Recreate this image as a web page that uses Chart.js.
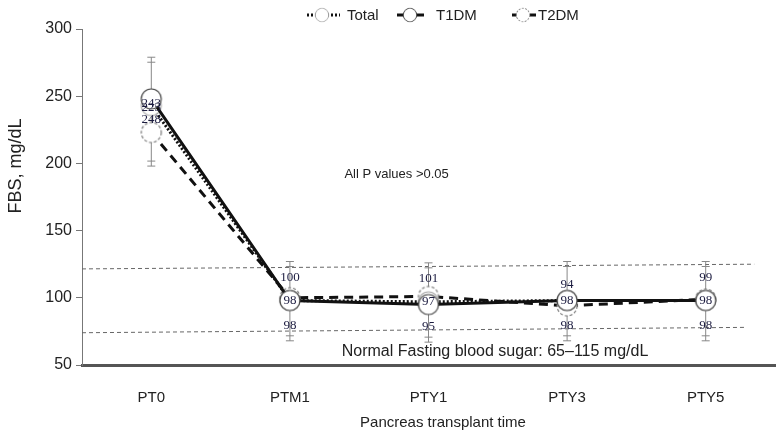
<!DOCTYPE html>
<html>
<head>
<meta charset="utf-8">
<script src="https://cdn.jsdelivr.net/npm/chart.js@4.4.1/dist/chart.umd.min.js"></script>
<style>
  html, body { margin: 0; padding: 0; background: #fff; }
  #wrap { width: 778px; height: 436px; }
</style>
</head>
<body>
<div id="wrap"><canvas id="fbsChart" width="778" height="436"></canvas></div>
<script>
// FBS over time after pancreas transplant
const timeLabels = ["PT0", "PTM1", "PTY1", "PTY3", "PTY5"];
const totalFbs = [243, 98, 97, 98, 98];
const t1dmFbs = [248, 98, 95, 98, 98];
const t2dmFbs = [223, 100, 101, 94, 99];
const errHigh = [279, 127, 126, 127, 127];
const errLow = [198, 68, 67, 68, 68];
const normalUpper = [121.5, 125];
const normalLower = [74, 78];
const yTicks = [50, 100, 150, 200, 250, 300];

const SANS = "'Liberation Sans', Arial, sans-serif";
const SERIF = "'Liberation Serif', 'Times New Roman', serif";

function makeMarker(stroke, dash, r) {
  const c = document.createElement("canvas");
  const s = r * 2 + 4;
  c.width = s;
  c.height = s;
  const g = c.getContext("2d");
  g.beginPath();
  g.arc(s / 2, s / 2, r, 0, Math.PI * 2);
  g.fillStyle = "#fff";
  g.fill();
  g.setLineDash(dash);
  g.lineWidth = 1.2;
  g.strokeStyle = stroke;
  g.stroke();
  return c;
}

const markers = {
  total: makeMarker("#aaa", [], 10),
  t1dm: makeMarker("#444", [], 10),
  t2dm: makeMarker("#777", [3, 2], 10),
};

// error bars + normal range lines, under the series
const backdropPlugin = {
  id: "backdrop",
  beforeDatasetsDraw(chart) {
    const { ctx, scales: { x, y }, chartArea } = chart;
    ctx.save();
    ctx.strokeStyle = "#666";
    ctx.lineWidth = 1;
    ctx.setLineDash([4, 3]);
    [normalUpper, normalLower].forEach((pair, i) => {
      const xEnd = x.getPixelForValue(i === 0 ? 4.35 : 4.29);
      ctx.beginPath();
      ctx.moveTo(chartArea.left, y.getPixelForValue(pair[0]));
      ctx.lineTo(xEnd, y.getPixelForValue(pair[1]));
      ctx.stroke();
    });
    ctx.setLineDash([]);
    ctx.strokeStyle = "#888";
    timeLabels.forEach((_, i) => {
      const px = x.getPixelForValue(i);
      const top = y.getPixelForValue(errHigh[i]);
      const bot = y.getPixelForValue(errLow[i]);
      ctx.beginPath();
      ctx.moveTo(px, top);
      ctx.lineTo(px, bot);
      [top, top + 5, bot, bot - 5].forEach((cy) => {
        ctx.moveTo(px - 4, cy);
        ctx.lineTo(px + 4, cy);
      });
      ctx.stroke();
    });
    ctx.restore();
  },
};

// value labels, notes, titles and legend
const overlayPlugin = {
  id: "overlay",
  afterDatasetsDraw(chart) {
    const { ctx, scales: { x, y } } = chart;
    ctx.save();
    ctx.fillStyle = "#1c1c40";
    ctx.font = "13px " + SERIF;
    ctx.textAlign = "center";
    ctx.textBaseline = "middle";
    timeLabels.forEach((_, i) => {
      const px = x.getPixelForValue(i);
      const cy = y.getPixelForValue(totalFbs[i]);
      if (i === 0) {
        ctx.fillText(String(totalFbs[i]), px, cy - 2);
        ctx.fillText(String(t2dmFbs[i]), px, cy + 2);
        ctx.fillText(String(t1dmFbs[i]), px, cy + 14);
      } else {
        ctx.fillText(String(t2dmFbs[i]), px, cy - (i === 3 ? 16 : 23));
        ctx.fillText(String(totalFbs[i]), px, cy);
        ctx.fillText(String(t1dmFbs[i]), px, cy + 25);
      }
    });

    ctx.fillStyle = "#222";
    ctx.font = "13px " + SANS;
    ctx.fillText("All P values >0.05", x.getPixelForValue(1.77), y.getPixelForValue(192));
    ctx.font = "16px " + SANS;
    ctx.fillText("Normal Fasting blood sugar: 65\u2013115 mg/dL", x.getPixelForValue(2.48), y.getPixelForValue(60));
    ctx.restore();
  },
  afterDraw(chart) {
    const { ctx } = chart;
    ctx.save();
    ctx.fillStyle = "#222";
    ctx.textAlign = "center";
    ctx.textBaseline = "middle";
    ctx.font = "15px " + SANS;
    ctx.fillText("Pancreas transplant time", 443, 423);
    ctx.translate(16, 166);
    ctx.rotate(-Math.PI / 2);
    ctx.font = "18px " + SANS;
    ctx.fillText("FBS, mg/dL", 0, 0);
    ctx.restore();

    // legend
    const items = [
      { x0: 307, x1: 340, cx: 322, tx: 347, text: "Total", dash: [2, 2], m: markers.total },
      { x0: 397, x1: 424, cx: 410, tx: 436, text: "T1DM", dash: [], m: markers.t1dm },
      { x0: 512, x1: 536, cx: 523, tx: 538, text: "T2DM", dash: [6, 3], m: markers.t2dm },
    ];
    const ly = 15;
    ctx.save();
    items.forEach((it) => {
      ctx.strokeStyle = "#111";
      ctx.lineWidth = 3;
      ctx.setLineDash(it.dash);
      ctx.beginPath();
      ctx.moveTo(it.x0, ly);
      ctx.lineTo(it.x1, ly);
      ctx.stroke();
      ctx.drawImage(it.m, it.cx - 8, ly - 8, 16, 16);
      ctx.fillStyle = "#222";
      ctx.font = "15px " + SANS;
      ctx.textAlign = "left";
      ctx.textBaseline = "middle";
      ctx.fillText(it.text, it.tx, ly + 1);
    });
    ctx.restore();
  },
};

function seriesDataset(label, data, dash, marker) {
  return {
    label,
    data,
    borderColor: "#111",
    backgroundColor: "#fff",
    borderWidth: 3,
    borderDash: dash,
    pointStyle: marker,
    pointRadius: 10,
    pointHoverRadius: 10,
    tension: 0,
    fill: false,
  };
}

new Chart(document.getElementById("fbsChart"), {
  type: "line",
  data: {
    labels: timeLabels,
    datasets: [
      seriesDataset("T1DM", t1dmFbs, [], markers.t1dm),
      seriesDataset("Total", totalFbs, [2, 2], markers.total),
      seriesDataset("T2DM", t2dmFbs, [9, 6], markers.t2dm),
    ],
  },
  options: {
    responsive: false,
    animation: false,
    events: [],
    layout: { autoPadding: false, padding: { top: 29, right: 3, bottom: 0, left: 0 } },
    plugins: { legend: { display: false }, tooltip: { enabled: false } },
    scales: {
      x: {
        type: "category",
        offset: true,
        grid: { display: false, drawTicks: false },
        border: { display: true, color: "#555", width: 3 },
        ticks: { color: "#222", font: { family: SANS, size: 15 }, padding: 24 },
        afterFit: (scale) => {
          scale.height = 71;
          scale.paddingLeft = 0;
          scale.paddingRight = 0;
        },
      },
      y: {
        min: yTicks[0],
        max: yTicks[yTicks.length - 1],
        afterBuildTicks: (scale) => { scale.ticks = yTicks.map((v) => ({ value: v })); },
        grid: { drawOnChartArea: false, drawTicks: true, tickLength: 6, color: "#777" },
        border: { display: true, color: "#777", width: 1 },
        ticks: { color: "#222", font: { family: SANS, size: 16 }, padding: 4 },
        afterFit: (scale) => { scale.width = 82; },
      },
    },
  },
  plugins: [backdropPlugin, overlayPlugin],
});
</script>
</body>
</html>
